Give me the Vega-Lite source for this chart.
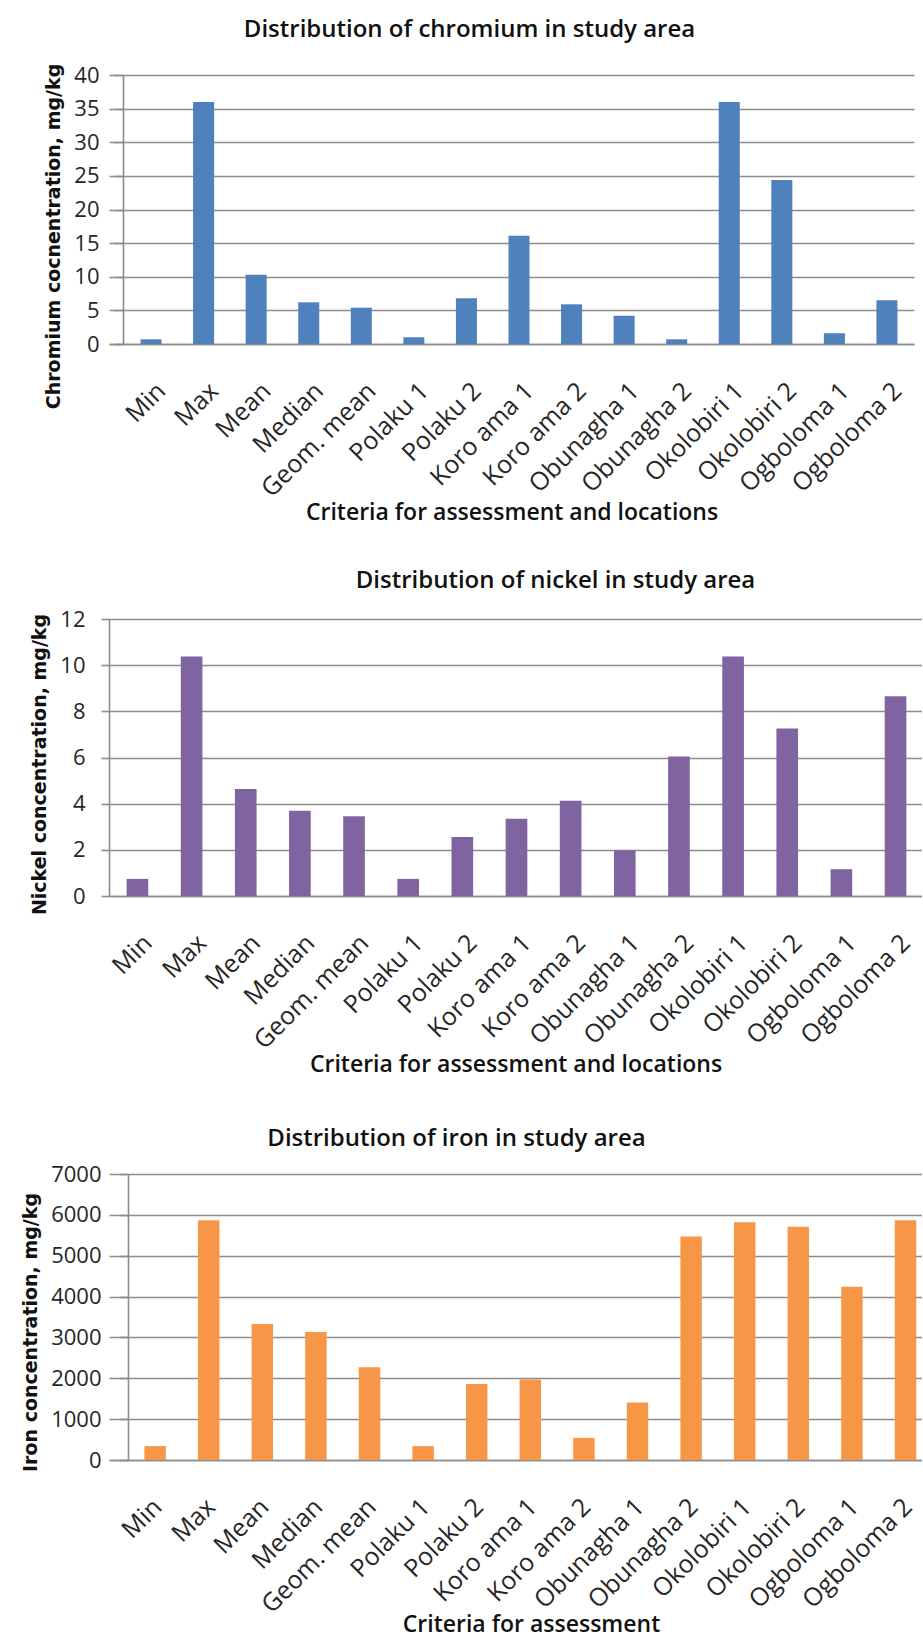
{
  "$schema": "https://vega.github.io/schema/vega-lite/v6.json",
  "background": "white",
  "padding": {"left": 21, "top": 18, "right": 0, "bottom": 0},
  "spacing": 44,
  "datasets": {
    "chromium": [
      {"site": "Min", "value": 0.7},
      {"site": "Max", "value": 36},
      {"site": "Mean", "value": 10.3},
      {"site": "Median", "value": 6.2},
      {"site": "Geom. mean", "value": 5.4},
      {"site": "Polaku 1", "value": 1.0},
      {"site": "Polaku 2", "value": 6.8},
      {"site": "Koro ama 1", "value": 16.1},
      {"site": "Koro ama 2", "value": 5.9},
      {"site": "Obunagha 1", "value": 4.2},
      {"site": "Obunagha 2", "value": 0.7},
      {"site": "Okolobiri 1", "value": 36},
      {"site": "Okolobiri 2", "value": 24.4},
      {"site": "Ogboloma 1", "value": 1.6},
      {"site": "Ogboloma 2", "value": 6.5}
    ],
    "nickel": [
      {"site": "Min", "value": 0.74},
      {"site": "Max", "value": 10.38},
      {"site": "Mean", "value": 4.64},
      {"site": "Median", "value": 3.69},
      {"site": "Geom. mean", "value": 3.45},
      {"site": "Polaku 1", "value": 0.74},
      {"site": "Polaku 2", "value": 2.56},
      {"site": "Koro ama 1", "value": 3.35},
      {"site": "Koro ama 2", "value": 4.13},
      {"site": "Obunagha 1", "value": 1.98},
      {"site": "Obunagha 2", "value": 6.04},
      {"site": "Okolobiri 1", "value": 10.38},
      {"site": "Okolobiri 2", "value": 7.26},
      {"site": "Ogboloma 1", "value": 1.16},
      {"site": "Ogboloma 2", "value": 8.65}
    ],
    "iron": [
      {"site": "Min", "value": 340},
      {"site": "Max", "value": 5870},
      {"site": "Mean", "value": 3330},
      {"site": "Median", "value": 3130},
      {"site": "Geom. mean", "value": 2270},
      {"site": "Polaku 1", "value": 340},
      {"site": "Polaku 2", "value": 1860},
      {"site": "Koro ama 1", "value": 1970},
      {"site": "Koro ama 2", "value": 540},
      {"site": "Obunagha 1", "value": 1410},
      {"site": "Obunagha 2", "value": 5470},
      {"site": "Okolobiri 1", "value": 5820},
      {"site": "Okolobiri 2", "value": 5710},
      {"site": "Ogboloma 1", "value": 4240},
      {"site": "Ogboloma 2", "value": 5870}
    ]
  },
  "config": {
    "view": {"stroke": null},
    "axis": {
      "labelFont": "Open Sans",
      "labelFontSize": 22,
      "labelColor": "#262626",
      "titleColor": "#111111",
      "gridColor": "#8c8c8c",
      "gridWidth": 1.6,
      "domainColor": "#8c8c8c",
      "domainWidth": 1.6,
      "tickColor": "#8c8c8c",
      "tickWidth": 1.6
    },
    "axisX": {
      "labelAngle": -45,
      "labelFontSize": 25,
      "labelPadding": 34,
      "labelOffset": 2,
      "ticks": false,
      "grid": false,
      "titleFont": "Open Sans",
      "titleFontWeight": 600,
      "titleFontSize": 23,
      "titlePadding": 0
    },
    "axisY": {
      "tickSize": 9,
      "titleFont": "DejaVu Sans",
      "titleFontWeight": "bold",
      "titleFontSize": 19,
      "titlePadding": 10
    },
    "title": {"font": "Open Sans", "fontWeight": 600, "fontSize": 24, "color": "#111111", "frame": "group"}
  },
  "vconcat": [
    {
      "width": 805,
      "height": 269,
      "title": {"text": "Distribution of chromium in study area", "dx": -42, "offset": 21},
      "data": {"name": "chromium"},
      "mark": {"type": "bar", "color": "#4F81BD"},
      "encoding": {
        "x": {
          "field": "site",
          "type": "nominal",
          "sort": null,
          "scale": {"paddingInner": 0.6, "paddingOuter": 0.457, "align": 0.656},
          "axis": {"title": "Criteria for assessment and locations"}
        },
        "y": {
          "field": "value",
          "type": "quantitative",
          "scale": {"domain": [0, 40], "nice": false},
          "axis": {
            "values": [0, 5, 10, 15, 20, 25, 30, 35, 40],
            "offset": -14,
            "labelPadding": 15,
            "title": "Chromium cocnentration, mg/kg",
            "titleY": 161
          }
        }
      }
    },
    {
      "width": 813,
      "height": 277,
      "title": {"text": "Distribution of nickel in study area", "dx": 40, "offset": 15},
      "data": {"name": "nickel"},
      "mark": {"type": "bar", "color": "#8064A2"},
      "encoding": {
        "x": {
          "field": "site",
          "type": "nominal",
          "sort": null,
          "scale": {"paddingInner": 0.6, "paddingOuter": 0.307, "align": 0.53},
          "axis": {
            "title": ["Criteria for assessment and locations", ""],
            "titleLineHeight": 6
          }
        },
        "y": {
          "field": "value",
          "type": "quantitative",
          "scale": {"domain": [0, 12], "nice": false},
          "axis": {
            "values": [0, 2, 4, 6, 8, 10, 12],
            "tickSize": 8,
            "labelPadding": 16,
            "title": "Nickel concentration, mg/kg",
            "titleY": 145
          }
        }
      }
    },
    {
      "width": 813,
      "height": 286,
      "title": {"text": "Distribution of iron  in study area", "dx": -59, "offset": 12},
      "data": {"name": "iron"},
      "mark": {"type": "bar", "color": "#F79646"},
      "encoding": {
        "x": {
          "field": "site",
          "type": "nominal",
          "sort": null,
          "scale": {"paddingInner": 0.6, "paddingOuter": 0.384, "align": 0.86},
          "axis": {
            "title": "Criteria for assessment",
            "titleX": 422,
            "titlePadding": -4,
            "labelOffset": -6
          }
        },
        "y": {
          "field": "value",
          "type": "quantitative",
          "scale": {"domain": [0, 7000], "nice": false},
          "axis": {
            "values": [0, 1000, 2000, 3000, 4000, 5000, 6000, 7000],
            "format": "d",
            "offset": -19,
            "labelPadding": 18,
            "title": "Iron concentration, mg/kg",
            "titleY": 158
          }
        }
      }
    }
  ]
}
